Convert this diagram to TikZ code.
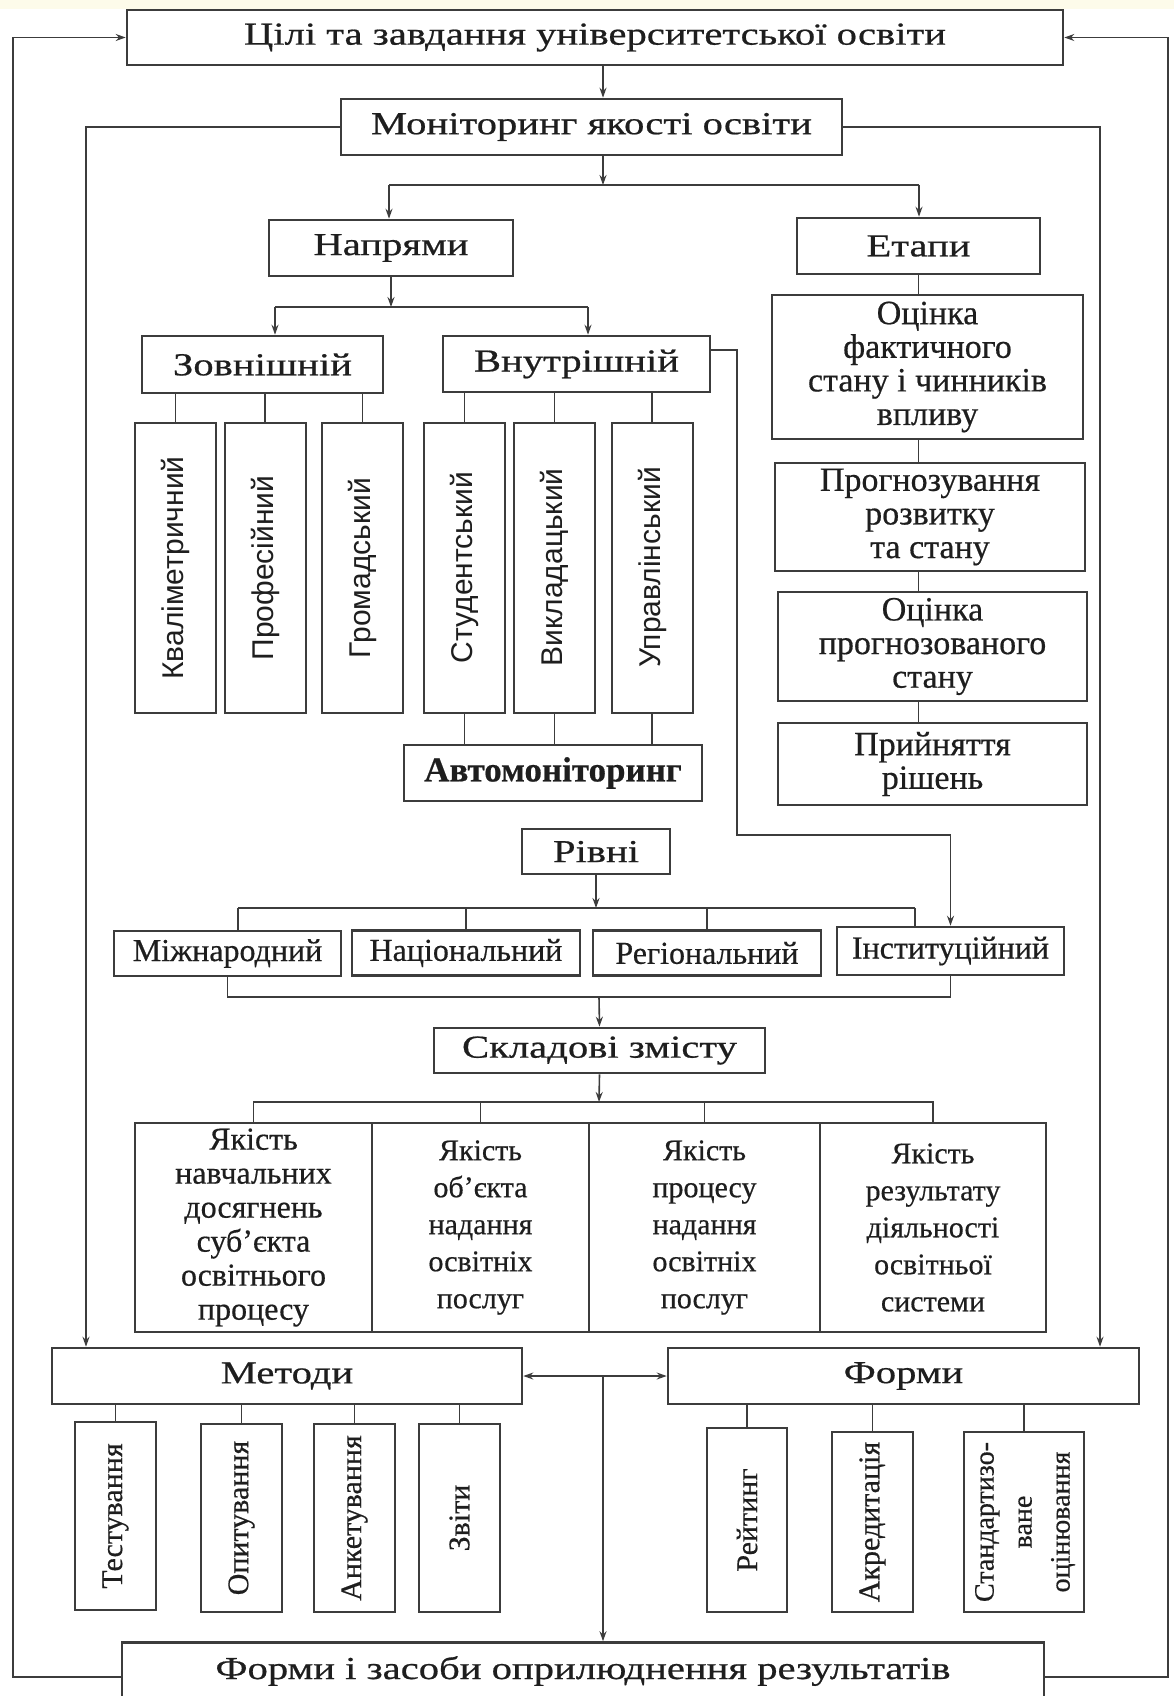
\documentclass[tikz,border=0pt]{standalone}
\usepackage{fontspec}
\setmainfont[FakeBold=0.5]{Liberation Serif}
\setsansfont{Liberation Sans}
\newfontfamily\wideserif[FakeStretch=1.27,FakeBold=0.6]{Liberation Serif}
\usetikzlibrary{arrows.meta}
\definecolor{inkc}{HTML}{3C3C3C}
\definecolor{textc}{HTML}{1E1E1E}
\definecolor{bandc}{HTML}{FDFBEA}

\begin{document}
\begin{tikzpicture}[x=1pt, y=-1pt, >={Stealth[length=10pt,width=7pt]},
    conn/.style={draw=inkc, line width=1.6pt},
    hbox/.style={draw=inkc, line width=2.6pt, fill=white, inner sep=0pt, align=center, text=textc,
        font=\wideserif\fontsize{32}{34}\selectfont},
    ebox/.style={hbox, font=\rmfamily\fontsize{34}{33.6}\selectfont},
    lbox/.style={hbox, minimum height=45, font=\rmfamily\fontsize{32}{34}\selectfont},
    qbox/.style={hbox, minimum height=209, font=\rmfamily\fontsize{30}{37}\selectfont},
    vsans/.style={draw=inkc, line width=2pt, fill=white, inner sep=0pt, text=textc,
        minimum width=81, minimum height=290, font=\sffamily\fontsize{30}{30}\selectfont},
    vserif/.style={vsans, minimum height=188, font=\rmfamily\fontsize{30}{38}\selectfont}]

    \useasboundingbox (0,0) rectangle (1174,1696);
    \fill[white] (0,0) rectangle (1174,1696);
    \fill[bandc] (0,0) rectangle (1174,9);

    \coordinate (spine) at (603,0);
    \coordinate (lside) at (86,0);
    \coordinate (rside) at (1100,0);
    \coordinate (lout) at (13,0);
    \coordinate (rout) at (1168,0);

    \node[hbox, minimum width=936, minimum height=55] (goals) at (595,37.5) {Цілі та завдання університетської освіти};
    \node[hbox, minimum width=501, minimum height=56] (monit) at (591.5,127) {Моніторинг якості освіти};
    \node[hbox, minimum width=244, minimum height=56] (napr) at (391,248) {Напрями};
    \node[hbox, minimum width=243, minimum height=56] (etapy) at (918.5,246) {Етапи};
    \node[hbox, minimum width=241, minimum height=57] (zovn) at (262.5,364.5) {Зовнішній};
    \node[hbox, minimum width=267, minimum height=56] (vnutr) at (576.5,364) {Внутрішній};

    \node[vsans] (kval) at (175.5,568) {\rotatebox{90}{Кваліметричний}};
    \node[vsans] (prof) at (265,568) {\rotatebox{90}{Професійний}};
    \node[vsans] (hrom) at (362.5,568) {\rotatebox{90}{Громадський}};
    \node[vsans] (stud) at (464.5,567.5) {\rotatebox{90}{Студентський}};
    \node[vsans] (vykl) at (554.5,567.5) {\rotatebox{90}{Викладацький}};
    \node[vsans] (uprav) at (652,567.5) {\rotatebox{90}{Управлінський}};
    \node[hbox, minimum width=298, minimum height=56, font=\rmfamily\bfseries\fontsize{35}{36}\selectfont] (avto) at (553,773) {Автомоніторинг};

    \node[ebox, minimum width=311, minimum height=144] (st1) at (927.5,367) {Оцінка\\фактичного\\стану і чинників\\впливу};
    \node[ebox, minimum width=310, minimum height=108] (st2) at (930,517) {Прогнозування\\розвитку\\та стану};
    \node[ebox, minimum width=309, minimum height=109] (st3) at (932.5,646.5) {Оцінка\\прогнозованого\\стану};
    \node[ebox, minimum width=309, minimum height=82] (st4) at (932.5,764) {Прийняття\\рішень};

    \node[hbox, minimum width=148, minimum height=45] (rivni) at (596,851.5) {Рівні};
    \node[lbox, minimum width=227] (mizh) at (227.5,953.5) {Міжнародний};
    \node[lbox, minimum width=228] (nats) at (466,953) {Національний};
    \node[lbox, minimum width=228] (reg) at (707,953) {Регіональний};
    \node[lbox, minimum width=227, minimum height=48] (inst) at (950.5,951) {Інституційний};

    \node[hbox, minimum width=331, minimum height=45] (skl) at (599.5,1050.5) {Складові змісту};
    \node[qbox, minimum width=237, font=\rmfamily\fontsize{32}{34}\selectfont] (q1) at (253.5,1227.5) {Якість\\навчальних\\досягнень\\суб’єкта\\освітнього\\процесу};
    \node[qbox, minimum width=217] (q2) at (480.5,1227.5) {Якість\\об’єкта\\надання\\освітніх\\послуг};
    \node[qbox, minimum width=231] (q3) at (704.5,1227.5) {Якість\\процесу\\надання\\освітніх\\послуг};
    \node[qbox, minimum width=226] (q4) at (933,1227.5) {Якість\\результату\\діяльності\\освітньої\\системи};

    \node[hbox, minimum width=470, minimum height=56] (metody) at (287,1376) {Методи};
    \node[hbox, minimum width=471, minimum height=56] (formy) at (903.5,1376) {Форми};
    \node[vserif] (test) at (115.5,1516) {\rotatebox{90}{Тестування}};
    \node[vserif] (opyt) at (241.5,1518) {\rotatebox{90}{Опитування}};
    \node[vserif] (ank) at (354.5,1518) {\rotatebox{90}{Анкетування}};
    \node[vserif] (zvit) at (459.5,1518) {\rotatebox{90}{Звіти}};
    \node[vserif, minimum width=80, minimum height=184] (reit) at (747,1520) {\rotatebox{90}{Рейтинг}};
    \node[vserif, minimum height=180] (akr) at (872.5,1522) {\rotatebox{90}{Акредитація}};
    \node[vserif, minimum width=120, minimum height=180, font=\rmfamily\fontsize{28}{38}\selectfont] (stand) at (1024,1522)
        {\rotatebox{90}{\begin{tabular}{@{}c@{}}Стандартизо-\\ване\\оцінювання\end{tabular}}};

    \node[hbox, minimum width=922, minimum height=57] (final) at (583,1671) {Форми і засоби оприлюднення результатів};

    \coordinate (b1l) at (389,185);
    \coordinate (b1r) at (919,185);
    \coordinate (b2l) at (275,307);
    \coordinate (b2r) at (588,307);
    \coordinate (vk) at (737,835);
    \coordinate (lv1) at (238,908);
    \coordinate (lv4) at (915,908);
    \coordinate (lb) at (599,997);
    \coordinate (qb) at (599,1102);

    \draw[conn,->] (goals.south -| spine) -- (monit.north -| spine);
    \draw[conn,->] (monit.south -| spine) -- (spine |- b1l);
    \draw[conn] (b1l) -- (b1r);
    \draw[conn,->] (b1l) -- (b1l |- napr.north);
    \draw[conn,->] (b1r) -- (b1r |- etapy.north);
    \draw[conn,->] (napr.south) -- (napr.south |- b2l);
    \draw[conn] (b2l) -- (b2r);
    \draw[conn,->] (b2l) -- (b2l |- zovn.north);
    \draw[conn,->] (b2r) -- (b2r |- vnutr.north);
    \foreach \n in {kval,prof,hrom}
        \draw[conn] (\n.north) -- (\n.north |- zovn.south);
    \foreach \n in {stud,vykl,uprav} {
        \draw[conn] (\n.north) -- (\n.north |- vnutr.south);
        \draw[conn] (\n.south) -- (\n.south |- avto.north);
    }
    \foreach \a/\b in {etapy/st1, st1/st2, st2/st3, st3/st4}
        \draw[conn] (\a.south -| etapy) -- (\b.north -| etapy);

    \draw[conn,->] ([yshift=14pt]vnutr.east) -| (vk) -| (inst.north);
    \draw[conn,->] (rivni.south) -- (rivni.south |- lv1);
    \draw[conn] (lv1) -- (lv4);
    \draw[conn] (lv1) -- (lv1 |- mizh.north);
    \draw[conn] (nats.north |- lv1) -- (nats.north);
    \draw[conn] (reg.north |- lv1) -- (reg.north);
    \draw[conn] (lv4) -- (lv4 |- inst.north);
    \draw[conn] (mizh.south) |- (lb) -| (inst.south);
    \draw[conn,->] (lb) -- (skl.north);

    \draw[conn,->] (skl.south) -- (qb);
    \draw[conn] (q1.north) |- (qb) -| (q4.north);
    \draw[conn] (q2.north) -- (q2.north |- qb);
    \draw[conn] (q3.north) -- (q3.north |- qb);

    \draw[conn,->] (monit.west) -| (lside |- metody.north);
    \draw[conn,->] (monit.east) -| (rside |- formy.north);
    \draw[conn,<->] (metody.east) -- (formy.west);
    \draw[conn,->] (spine |- metody.east) -- (spine |- final.north);
    \foreach \n in {test,opyt,ank,zvit}
        \draw[conn] (\n.north) -- (\n.north |- metody.south);
    \foreach \n in {reit,akr,stand}
        \draw[conn] (\n.north) -- (\n.north |- formy.south);

    \draw[conn,->] ([yshift=-6pt]final.west) -| (lout |- goals.west) -- (goals.west);
    \draw[conn,->] ([yshift=-6pt]final.east) -| (rout |- goals.east) -- (goals.east);
\end{tikzpicture}
\end{document}
